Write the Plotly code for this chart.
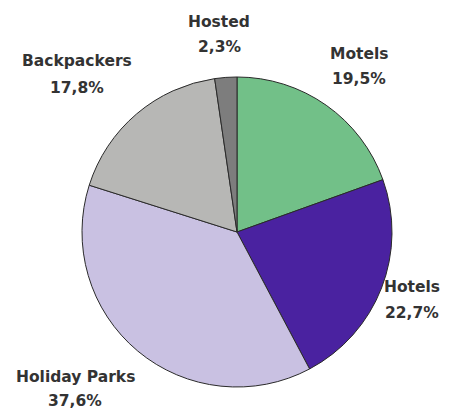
import plotly.graph_objects as go

# Accommodation share by type (clockwise from 12 o'clock)
categories = ["Motels", "Hotels", "Holiday Parks", "Backpackers", "Hosted"]
shares = [19.5, 22.7, 37.6, 17.8, 2.3]
colors = ["#72c088", "#4a22a0", "#c9c1e2", "#b7b7b5", "#7d7d7d"]

# Label anchor points in pixels (x, name line y, value line y)
label_pos = {
    "Motels": (359, 54, 79),
    "Hotels": (412, 287, 313),
    "Holiday Parks": (75, 377, 401),
    "Backpackers": (77, 61, 88),
    "Hosted": (219, 22, 47),
}

W, H = 454, 410

fig = go.Figure(
    go.Pie(
        labels=categories,
        values=shares,
        sort=False,
        direction="clockwise",
        rotation=0,
        marker=dict(colors=colors, line=dict(color="#2a2a2a", width=1)),
        textinfo="none",
        hoverinfo="label+percent",
        showlegend=False,
        domain=dict(x=[82 / W, 392 / W], y=[22 / H, 334 / H]),
    )
)

font = dict(family="DejaVu Sans", size=15.5, color="#333333", weight="bold")
annotations = []
for name, val in zip(categories, shares):
    x, y1, y2 = label_pos[name]
    pct = f"{val:.1f}%".replace(".", ",")
    for text, y in ((name, y1), (pct, y2)):
        annotations.append(
            dict(
                text=text,
                x=x / W,
                y=1 - y / H,
                xref="paper",
                yref="paper",
                xanchor="center",
                yanchor="middle",
                showarrow=False,
                font=font,
            )
        )

fig.update_layout(
    width=W,
    height=H,
    margin=dict(l=0, r=0, t=0, b=0),
    paper_bgcolor="white",
    plot_bgcolor="white",
    annotations=annotations,
)

fig.write_html("out.html")
